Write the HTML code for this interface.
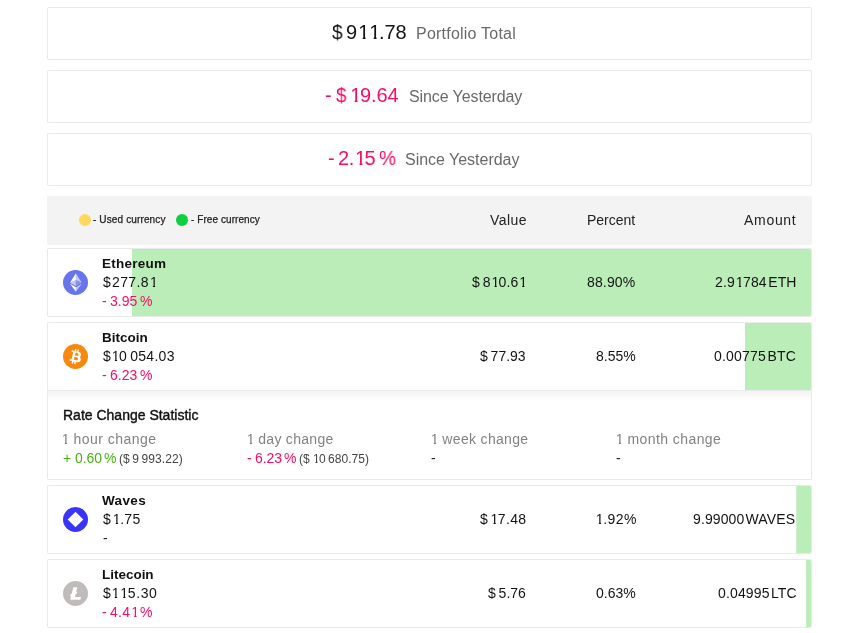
<!DOCTYPE html>
<html><head><meta charset="utf-8"><title>Portfolio</title>
<style>
html,body{margin:0;padding:0;background:#fff;}
body{width:859px;height:633px;position:relative;overflow:hidden;font-family:"Liberation Sans",sans-serif;}
.card{position:absolute;left:47px;width:763px;border:1px solid #e9e9e9;border-radius:2px;background:#fff;box-sizing:content-box;overflow:hidden;}
.bar{position:absolute;height:67px;background:#bbedb8;border-radius:0 2px 2px 0;box-shadow:0 0 0 1px #ece9ed;clip-path:inset(-1px -1px -1px 0);}
.hdr{position:absolute;left:47px;top:196px;width:765px;height:49px;background:#f3f3f3;border-radius:2px;}
.dot{position:absolute;width:12px;height:12px;border-radius:50%;top:214px;}
.ico{position:absolute;left:63px;width:25px;height:25px;}
.ico svg{display:block;}
.t{position:absolute;white-space:nowrap;will-change:transform;}
.o{display:inline-block;width:calc(0.556152em + var(--ls,0px));margin-left:0.06em;margin-right:-0.06em;clip-path:polygon(0 0,100% 0,100% calc(0.872em - 0.4px),calc(0.34em + 0.5px) calc(0.872em - 0.4px),calc(0.34em + 0.5px) 100%,calc(0.2515em - 0.5px) 100%,calc(0.2515em - 0.5px) calc(0.872em - 0.4px),0 calc(0.872em - 0.4px));}
.detail{position:absolute;left:47px;top:391px;width:763px;height:88px;border:1px solid #e9e9e9;border-top:none;border-radius:0 0 2px 2px;background:linear-gradient(to bottom,#f3f3f3 0px,#f7f7f7 3px,#fbfbfb 6px,#fefefe 9px,#fff 11px);}
</style></head><body>

<div class="card" style="top:7px;height:51px;"></div>
<div class="card" style="top:70px;height:51px;"></div>
<div class="card" style="top:133px;height:51px;"></div>
<div class="hdr"></div>
<div class="dot" style="left:79px;background:#ffd95f;"></div>
<div class="dot" style="left:176px;background:#0dd13c;"></div>
<div class="card" style="top:248px;height:67px;"></div>
<div class="bar" style="top:249px;left:132.0px;width:679.0px;"></div>
<div class="ico" style="top:270px;"><svg viewBox="0 0 32 32" width="25" height="25"><circle cx="16" cy="16" r="16" fill="#6874EB"/><g fill="#FFF"><path fill-opacity=".602" d="M16.498 4v8.87l7.497 3.35z"/><path d="M16.498 4L9 16.22l7.498-3.35z"/><path fill-opacity=".602" d="M16.498 21.968v6.027L24 17.616z"/><path d="M16.498 27.995v-6.028L9 17.616z"/><path fill-opacity=".2" d="M16.498 20.573l7.497-4.353-7.497-3.348z"/><path fill-opacity=".602" d="M9 16.22l7.498 4.353v-7.701z"/></g></svg></div>
<div class="card" style="top:322px;height:67px;border-radius:2px 2px 0 0;"></div>
<div class="bar" style="top:323px;left:745.0px;width:66.0px;border-radius:0 2px 0 0;"></div>
<div class="ico" style="top:344px;"><svg viewBox="0 0 32 32" width="25" height="25"><circle cx="16" cy="16" r="16" fill="#F7890F"/><path fill="#FFF" d="M23.189 14.02c.314-2.096-1.283-3.223-3.465-3.975l.708-2.84-1.728-.43-.69 2.765c-.454-.114-.92-.22-1.385-.326l.695-2.783L15.596 6l-.708 2.839c-.376-.086-.746-.17-1.104-.26l.002-.009-2.384-.595-.46 1.846s1.283.294 1.256.312c.7.175.826.638.805 1.006l-.806 3.235c.048.012.11.03.18.057l-.183-.045-1.13 4.532c-.086.212-.303.531-.793.41.018.025-1.256-.313-1.256-.313l-.858 1.978 2.25.561c.418.105.828.215 1.231.318l-.715 2.872 1.727.43.708-2.84c.472.127.93.245 1.378.357l-.706 2.828 1.728.43.715-2.866c2.948.558 5.164.333 6.097-2.333.752-2.146-.037-3.385-1.588-4.192 1.13-.26 1.98-1.003 2.207-2.538zm-3.95 5.538c-.533 2.147-4.148.986-5.32.695l.95-3.805c1.172.293 4.929.872 4.37 3.11zm.535-5.569c-.487 1.953-3.495.96-4.47.717l.86-3.45c.975.243 4.118.696 3.61 2.733z"/></svg></div>
<div class="card" style="top:485px;height:67px;"></div>
<div class="bar" style="top:486px;left:796.4px;width:14.6px;"></div>
<div class="ico" style="top:507px;"><svg viewBox="0 0 32 32" width="25" height="25"><circle cx="16" cy="16" r="16" fill="#3A33F8"/><path fill="#FFF" d="M16 6l10 10-10 10L6 16z"/></svg></div>
<div class="card" style="top:559px;height:67px;"></div>
<div class="bar" style="top:560px;left:806.2px;width:4.8px;"></div>
<div class="ico" style="top:581px;"><svg viewBox="0 0 32 32" width="25" height="25"><circle cx="16" cy="16" r="16" fill="#BFBBBB"/><path fill="#FFF" d="M10.427 19.214L9 19.768l.688-2.759 1.444-.58L13.213 8h5.129l-1.519 6.196 1.41-.571-.68 2.75-1.427.571-.848 3.483H23L22.127 24H9.252z"/></svg></div>
<div class="detail"></div>
<span class="t" id="a1" style="top:20.07px;font-size:20px;line-height:24.00px;color:#131313;left:332.40px;transform:scaleX(0.95);transform-origin:left center;">$</span>
<span class="t" id="a2" style="top:20.07px;font-size:20px;line-height:24.00px;color:#131313;left:345.60px;letter-spacing:-0.1px;--ls:-0.1px;">9<span class="o">1</span><span class="o">1</span>.78</span>
<span class="t" id="a3" style="top:23.56px;font-size:16px;line-height:19.20px;color:#696969;left:416.40px;letter-spacing:0.22px;">Portfolio Total</span>
<span class="t" id="b1" style="top:83.07px;font-size:20px;line-height:24.00px;color:#fb0a66;left:325.00px;">-</span>
<span class="t" id="b2" style="top:83.07px;font-size:20px;line-height:24.00px;color:#fb0a66;left:336.40px;transform:scaleX(0.94);transform-origin:left center;">$</span>
<span class="t" id="b3" style="top:83.07px;font-size:20px;line-height:24.00px;color:#fb0a66;left:349.40px;letter-spacing:-0.1px;--ls:-0.1px;"><span class="o">1</span>9.64</span>
<span class="t" id="b4" style="top:86.56px;font-size:16px;line-height:19.20px;color:#696969;left:408.80px;letter-spacing:-0.1px;">Since Yesterday</span>
<span class="t" id="c1" style="top:146.07px;font-size:20px;line-height:24.00px;color:#fb0a66;left:328.00px;">-</span>
<span class="t" id="c2" style="top:146.07px;font-size:20px;line-height:24.00px;color:#fb0a66;left:338.40px;letter-spacing:-0.4px;--ls:-0.4px;">2.<span class="o">1</span>5</span>
<span class="t" id="c3" style="top:146.07px;font-size:20px;line-height:24.00px;color:#fb0a66;left:379.00px;transform:scaleX(0.96);transform-origin:left center;">%</span>
<span class="t" id="c4" style="top:149.56px;font-size:16px;line-height:19.20px;color:#696969;left:405.40px;letter-spacing:-0.02px;">Since Yesterday</span>
<span class="t" id="h1" style="top:213.73px;font-size:10px;line-height:12.00px;color:#222;left:93.40px;letter-spacing:0.13px;-webkit-text-stroke:0.25px #222;">- Used currency</span>
<span class="t" id="h2" style="top:213.73px;font-size:10px;line-height:12.00px;color:#222;left:191.40px;letter-spacing:0.07px;-webkit-text-stroke:0.25px #222;">- Free currency</span>
<span class="t" id="h3" style="top:211.75px;font-size:14px;line-height:16.80px;color:#222;right:331.85px;letter-spacing:0.45px;">Value</span>
<span class="t" id="h4" style="top:211.75px;font-size:14px;line-height:16.80px;color:#222;right:223.50px;">Percent</span>
<span class="t" id="h5" style="top:211.75px;font-size:14px;line-height:16.80px;color:#222;right:62.60px;letter-spacing:0.7px;">Amount</span>
<span class="t" id="r0n" style="top:255.92px;font-size:13.5px;line-height:16.20px;color:#111;left:102.30px;font-weight:700;letter-spacing:0.25px;">Ethereum</span>
<span class="t" id="r0d" style="top:273.65px;font-size:14px;line-height:16.80px;color:#131313;left:102.60px;">$</span>
<span class="t" id="r0p" style="top:273.65px;font-size:14px;line-height:16.80px;color:#131313;left:112.40px;letter-spacing:0.4px;--ls:0.4px;">277.8<span class="o">1</span></span>
<span class="t" id="r0c" style="top:292.55px;font-size:14px;line-height:16.80px;color:#fb0a66;left:102.40px;">-</span>
<span class="t" id="r0g" style="top:292.55px;font-size:14px;line-height:16.80px;color:#fb0a66;left:110.30px;letter-spacing:0.05px;">3.95</span>
<span class="t" id="r0h" style="top:292.55px;font-size:14px;line-height:16.80px;color:#fb0a66;left:140.00px;">%</span>
<span class="t" id="r0v" style="top:273.85px;font-size:14px;line-height:16.80px;color:#131313;right:332.80px;letter-spacing:0.1px;--ls:0.1px;">$ 8<span class="o">1</span>0.6<span class="o">1</span></span>
<span class="t" id="r0q" style="top:273.85px;font-size:14px;line-height:16.80px;color:#131313;right:223.55px;letter-spacing:0.15px;">88.90%</span>
<span class="t" id="r0a" style="top:273.85px;font-size:14px;line-height:16.80px;color:#131313;right:62.23px;letter-spacing:0.17px;--ls:0.17px;">2.9<span class="o">1</span>784 ETH</span>
<span class="t" id="r1n" style="top:329.92px;font-size:13.5px;line-height:16.20px;color:#111;left:102.30px;font-weight:700;letter-spacing:-0.02px;">Bitcoin</span>
<span class="t" id="r1d" style="top:347.65px;font-size:14px;line-height:16.80px;color:#131313;left:102.60px;">$</span>
<span class="t" id="r1p" style="top:347.65px;font-size:14px;line-height:16.80px;color:#131313;left:111.40px;letter-spacing:0.28px;--ls:0.28px;"><span class="o">1</span>0 054.03</span>
<span class="t" id="r1c" style="top:366.55px;font-size:14px;line-height:16.80px;color:#fb0a66;left:102.40px;">-</span>
<span class="t" id="r1g" style="top:366.55px;font-size:14px;line-height:16.80px;color:#fb0a66;left:110.30px;letter-spacing:0.05px;">6.23</span>
<span class="t" id="r1h" style="top:366.55px;font-size:14px;line-height:16.80px;color:#fb0a66;left:140.00px;">%</span>
<span class="t" id="r1v" style="top:347.85px;font-size:14px;line-height:16.80px;color:#131313;right:333.50px;">$ 77.93</span>
<span class="t" id="r1q" style="top:347.85px;font-size:14px;line-height:16.80px;color:#131313;right:223.70px;">8.55%</span>
<span class="t" id="r1a" style="top:347.85px;font-size:14px;line-height:16.80px;color:#131313;right:62.99px;letter-spacing:0.21px;">0.00775 BTC</span>
<span class="t" id="r2n" style="top:492.92px;font-size:13.5px;line-height:16.20px;color:#111;left:102.40px;font-weight:700;letter-spacing:0.35px;">Waves</span>
<span class="t" id="r2d" style="top:510.65px;font-size:14px;line-height:16.80px;color:#131313;left:102.60px;">$</span>
<span class="t" id="r2p" style="top:510.65px;font-size:14px;line-height:16.80px;color:#131313;left:112.00px;letter-spacing:0.35px;--ls:0.35px;"><span class="o">1</span>.75</span>
<span class="t" id="r2c" style="top:529.55px;font-size:14px;line-height:16.80px;color:#222;left:102.60px;">-</span>
<span class="t" id="r2v" style="top:510.85px;font-size:14px;line-height:16.80px;color:#131313;right:332.45px;letter-spacing:0.35px;--ls:0.35px;">$ <span class="o">1</span>7.48</span>
<span class="t" id="r2q" style="top:510.85px;font-size:14px;line-height:16.80px;color:#131313;right:222.45px;letter-spacing:0.45px;--ls:0.45px;"><span class="o">1</span>.92%</span>
<span class="t" id="r2a" style="top:510.85px;font-size:14px;line-height:16.80px;color:#131313;right:63.70px;letter-spacing:0.1px;">9.99000 WAVES</span>
<span class="t" id="r3n" style="top:566.92px;font-size:13.5px;line-height:16.20px;color:#111;left:102.30px;font-weight:700;letter-spacing:-0.02px;">Litecoin</span>
<span class="t" id="r3d" style="top:584.65px;font-size:14px;line-height:16.80px;color:#131313;left:102.60px;">$</span>
<span class="t" id="r3p" style="top:584.65px;font-size:14px;line-height:16.80px;color:#131313;left:111.40px;letter-spacing:0.6px;--ls:0.6px;"><span class="o">1</span><span class="o">1</span>5.30</span>
<span class="t" id="r3c" style="top:603.55px;font-size:14px;line-height:16.80px;color:#fb0a66;left:102.40px;">-</span>
<span class="t" id="r3g" style="top:603.55px;font-size:14px;line-height:16.80px;color:#fb0a66;left:110.40px;letter-spacing:0.3px;--ls:0.3px;">4.4<span class="o">1</span></span>
<span class="t" id="r3h" style="top:603.55px;font-size:14px;line-height:16.80px;color:#fb0a66;left:140.00px;">%</span>
<span class="t" id="r3v" style="top:584.85px;font-size:14px;line-height:16.80px;color:#131313;right:333.50px;">$ 5.76</span>
<span class="t" id="r3q" style="top:584.85px;font-size:14px;line-height:16.80px;color:#131313;right:223.70px;">0.63%</span>
<span class="t" id="r3a" style="top:584.85px;font-size:14px;line-height:16.80px;color:#131313;right:61.95px;letter-spacing:0.15px;">0.04995 LTC</span>
<span class="t" id="d0" style="top:407.05px;font-size:14px;line-height:16.80px;color:#111;left:62.50px;-webkit-text-stroke:0.4px #111;">Rate Change Statistic</span>
<span class="t" id="dl0" style="top:430.95px;font-size:14px;line-height:16.80px;color:#828282;left:61.40px;letter-spacing:0.46px;--ls:0.46px;"><span class="o">1</span> hour change</span>
<span class="t" id="dl1" style="top:430.95px;font-size:14px;line-height:16.80px;color:#828282;left:246.40px;letter-spacing:0.29px;--ls:0.29px;"><span class="o">1</span> day change</span>
<span class="t" id="dl2" style="top:430.95px;font-size:14px;line-height:16.80px;color:#828282;left:430.40px;letter-spacing:0.33px;--ls:0.33px;"><span class="o">1</span> week change</span>
<span class="t" id="dl3" style="top:430.95px;font-size:14px;line-height:16.80px;color:#828282;left:615.40px;letter-spacing:0.42px;--ls:0.42px;"><span class="o">1</span> month change</span>
<span class="t" id="dv0a" style="top:449.65px;font-size:14px;line-height:16.80px;color:#48b012;left:62.80px;">+</span>
<span class="t" id="dv0b" style="top:449.65px;font-size:14px;line-height:16.80px;color:#48b012;left:74.50px;letter-spacing:-0.1px;">0.60</span>
<span class="t" id="dv0c" style="top:449.65px;font-size:14px;line-height:16.80px;color:#48b012;left:104.30px;">%</span>
<span class="t" id="dv0d" style="top:451.54px;font-size:12px;line-height:14.40px;color:#444;left:119.00px;letter-spacing:0.08px;">($ 9 993.22)</span>
<span class="t" id="dv1a" style="top:449.65px;font-size:14px;line-height:16.80px;color:#fb0a66;left:247.20px;">-</span>
<span class="t" id="dv1b" style="top:449.65px;font-size:14px;line-height:16.80px;color:#fb0a66;left:254.80px;letter-spacing:-0.1px;">6.23</span>
<span class="t" id="dv1c" style="top:449.65px;font-size:14px;line-height:16.80px;color:#fb0a66;left:284.40px;">%</span>
<span class="t" id="dv1d" style="top:451.54px;font-size:12px;line-height:14.40px;color:#444;left:298.70px;letter-spacing:0.04px;--ls:0.04px;">($ <span class="o">1</span>0 680.75)</span>
<span class="t" id="dv2" style="top:449.65px;font-size:14px;line-height:16.80px;color:#222;left:431.30px;">-</span>
<span class="t" id="dv3" style="top:449.65px;font-size:14px;line-height:16.80px;color:#222;left:616.40px;">-</span>
</body></html>
